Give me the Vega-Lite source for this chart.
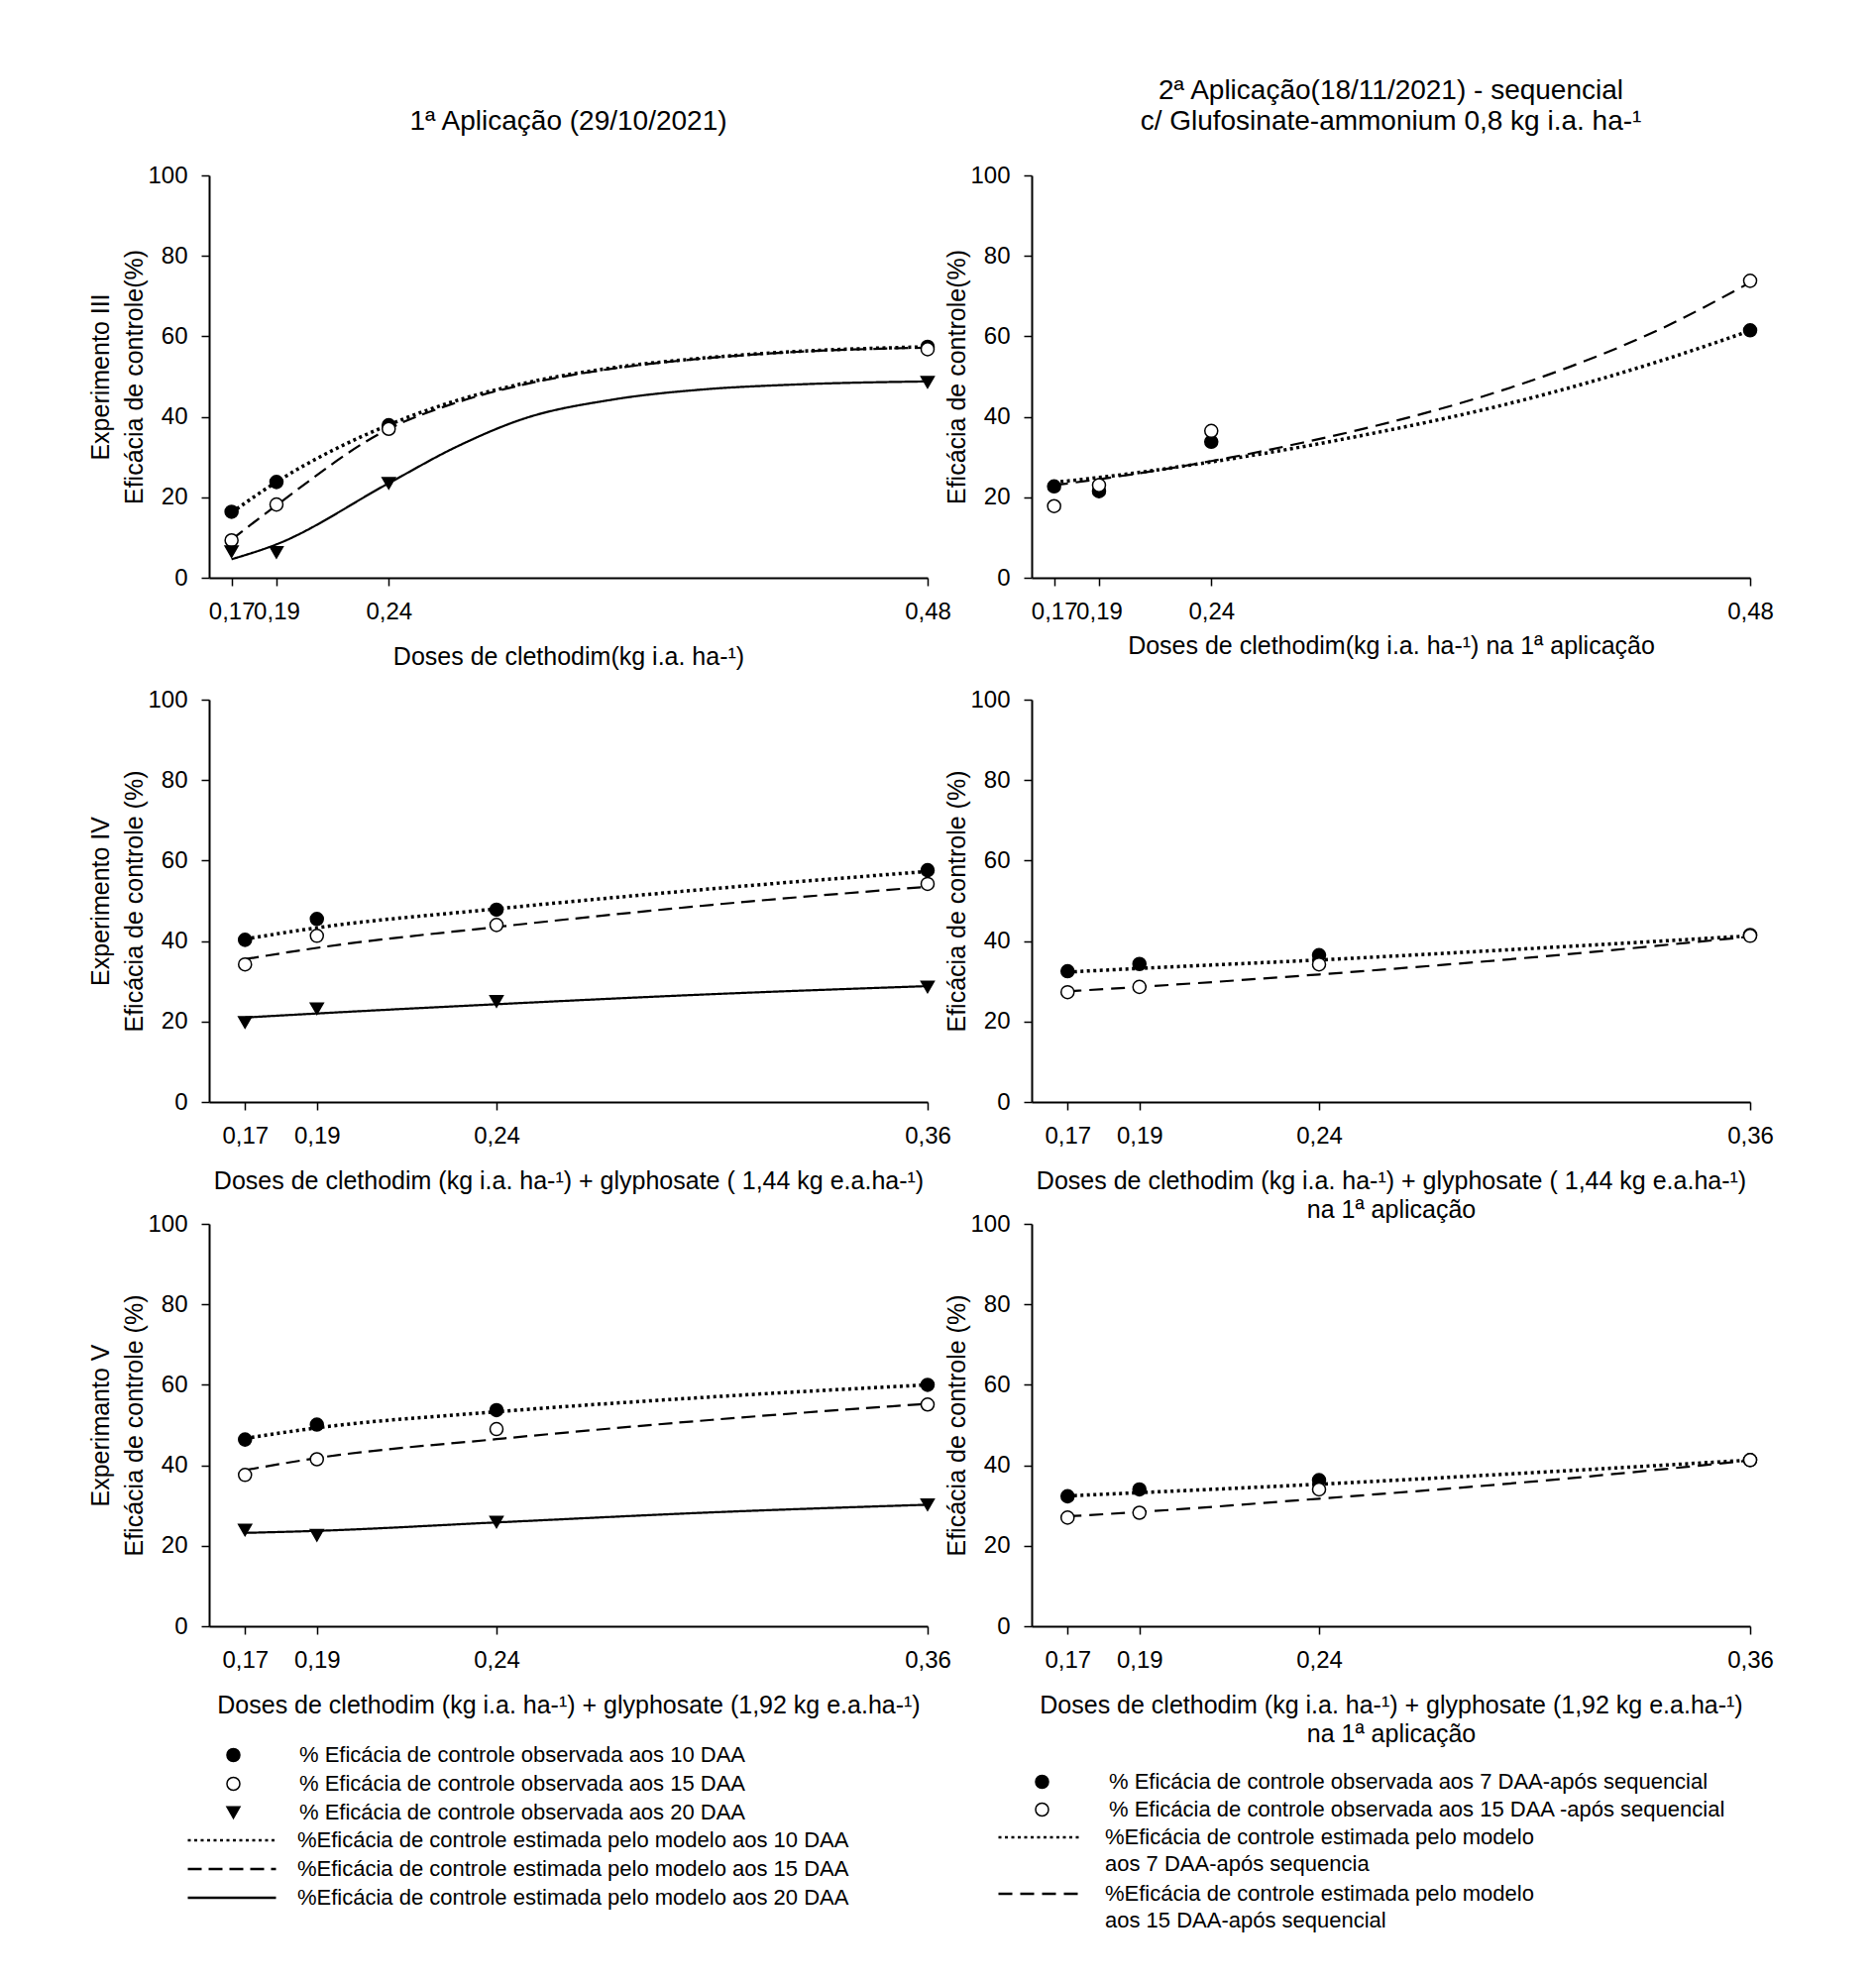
{
  "$schema": "https://vega.github.io/schema/vega-lite/v6.json",
  "background": "white",
  "padding": {"left": 89, "top": 78, "right": 10, "bottom": 10},
  "columns": 2,
  "spacing": {"row": 123, "column": 105},
  "bounds": "flush",
  "resolve": {"scale": {"shape": "independent", "fill": "independent", "stroke": "independent", "strokeDash": "independent"}, "legend": {"shape": "independent", "fill": "independent", "stroke": "independent", "strokeDash": "independent"}},
  "config": {
    "view": {"stroke": null},
    "font": "Liberation Sans",
    "axis": {"grid": false, "domainColor": "black", "domainWidth": 2, "tickColor": "black", "tickWidth": 1.5, "tickSize": 8, "labelColor": "black", "labelFontSize": 24, "labelFont": "Liberation Sans", "titleFont": "Liberation Sans", "titleColor": "black", "titleFontSize": 25, "titleFontWeight": "normal", "labelPadding": 14, "labelOverlap": false, "labelFlush": false},
    "axisX": {"titlePadding": 21, "titleLineHeight": 29},
    "axisY": {"titlePadding": 0, "titleLineHeight": 34},
    "title": {"fontSize": 28, "fontWeight": "normal", "color": "black", "offset": 28, "lineHeight": 31, "frame": "group", "font": "Liberation Sans"},
    "legend": {"padding": 0, "labelFontSize": 22, "labelColor": "black", "labelLimit": 1000, "rowPadding": 0, "labelFont": "Liberation Sans"}
  },
  "concat": [
    {
      "width": 725, "height": 406,
      "title": {"text": "1ª Aplicação (29/10/2021)"},
      "encoding": {
        "x": {"field": "dose", "type": "quantitative", "scale": {"domain": [0.16, 0.48], "nice": false, "zero": false}, "axis": {"values": [0.17, 0.19, 0.24, 0.48], "labelExpr": "replace(format(datum.value, '.2f'), '.', ',')", "title": "Doses de clethodim(kg i.a. ha-¹)"}},
        "y": {"field": "efic", "type": "quantitative", "scale": {"domain": [0, 100], "nice": false}, "axis": {"values": [0, 20, 40, 60, 80, 100], "title": ["Experimento III", "Eficácia de controle(%)"]}}
      },
      "layer": [
        {
          "data": {"values": [
            {"dose": 0.17, "efic": 16.2, "serie": "%Eficácia de controle estimada pelo modelo aos 10 DAA"},
            {"dose": 0.19, "efic": 23.8, "serie": "%Eficácia de controle estimada pelo modelo aos 10 DAA"},
            {"dose": 0.24, "efic": 38.0, "serie": "%Eficácia de controle estimada pelo modelo aos 10 DAA"},
            {"dose": 0.27, "efic": 44.0, "serie": "%Eficácia de controle estimada pelo modelo aos 10 DAA"},
            {"dose": 0.30, "efic": 48.3, "serie": "%Eficácia de controle estimada pelo modelo aos 10 DAA"},
            {"dose": 0.34, "efic": 52.2, "serie": "%Eficácia de controle estimada pelo modelo aos 10 DAA"},
            {"dose": 0.38, "efic": 54.6, "serie": "%Eficácia de controle estimada pelo modelo aos 10 DAA"},
            {"dose": 0.42, "efic": 56.2, "serie": "%Eficácia de controle estimada pelo modelo aos 10 DAA"},
            {"dose": 0.48, "efic": 57.4, "serie": "%Eficácia de controle estimada pelo modelo aos 10 DAA"},
            {"dose": 0.17, "efic": 9.5, "serie": "%Eficácia de controle estimada pelo modelo aos 15 DAA"},
            {"dose": 0.19, "efic": 18.0, "serie": "%Eficácia de controle estimada pelo modelo aos 15 DAA"},
            {"dose": 0.24, "efic": 37.0, "serie": "%Eficácia de controle estimada pelo modelo aos 15 DAA"},
            {"dose": 0.27, "efic": 43.5, "serie": "%Eficácia de controle estimada pelo modelo aos 15 DAA"},
            {"dose": 0.30, "efic": 48.0, "serie": "%Eficácia de controle estimada pelo modelo aos 15 DAA"},
            {"dose": 0.34, "efic": 52.0, "serie": "%Eficácia de controle estimada pelo modelo aos 15 DAA"},
            {"dose": 0.38, "efic": 54.5, "serie": "%Eficácia de controle estimada pelo modelo aos 15 DAA"},
            {"dose": 0.42, "efic": 56.1, "serie": "%Eficácia de controle estimada pelo modelo aos 15 DAA"},
            {"dose": 0.48, "efic": 57.2, "serie": "%Eficácia de controle estimada pelo modelo aos 15 DAA"},
            {"dose": 0.17, "efic": 4.6, "serie": "%Eficácia de controle estimada pelo modelo aos 20 DAA"},
            {"dose": 0.19, "efic": 8.3, "serie": "%Eficácia de controle estimada pelo modelo aos 20 DAA"},
            {"dose": 0.24, "efic": 23.5, "serie": "%Eficácia de controle estimada pelo modelo aos 20 DAA"},
            {"dose": 0.27, "efic": 32.5, "serie": "%Eficácia de controle estimada pelo modelo aos 20 DAA"},
            {"dose": 0.30, "efic": 39.5, "serie": "%Eficácia de controle estimada pelo modelo aos 20 DAA"},
            {"dose": 0.34, "efic": 44.3, "serie": "%Eficácia de controle estimada pelo modelo aos 20 DAA"},
            {"dose": 0.38, "efic": 46.8, "serie": "%Eficácia de controle estimada pelo modelo aos 20 DAA"},
            {"dose": 0.42, "efic": 48.0, "serie": "%Eficácia de controle estimada pelo modelo aos 20 DAA"},
            {"dose": 0.48, "efic": 48.8, "serie": "%Eficácia de controle estimada pelo modelo aos 20 DAA"}
          ]},
          "layer": [
            {
              "transform": [{"filter": "indexof(datum.serie, ' 10 DAA') >= 0"}],
              "mark": {"type": "line", "interpolate": "monotone", "color": "black", "strokeWidth": 3.5},
              "encoding": {"strokeDash": {"field": "serie", "type": "nominal", "scale": {"domain": ["%Eficácia de controle estimada pelo modelo aos 10 DAA", "%Eficácia de controle estimada pelo modelo aos 15 DAA", "%Eficácia de controle estimada pelo modelo aos 20 DAA"], "range": [[3, 3.5], [14, 7], [1, 0]]}, "legend": null}}
            },
            {
              "transform": [{"filter": "indexof(datum.serie, ' 10 DAA') < 0"}],
              "mark": {"type": "line", "interpolate": "monotone", "color": "black", "strokeWidth": 2.2},
              "encoding": {"strokeDash": {"field": "serie", "type": "nominal", "scale": {"domain": ["%Eficácia de controle estimada pelo modelo aos 10 DAA", "%Eficácia de controle estimada pelo modelo aos 15 DAA", "%Eficácia de controle estimada pelo modelo aos 20 DAA"], "range": [[3, 3.5], [14, 7], [1, 0]]}, "legend": null}}
            }
          ]
        },
        {
          "data": {"values": [
            {"dose": 0.17, "efic": 16.4, "serie": "% Eficácia de controle observada aos 10 DAA"},
            {"dose": 0.19, "efic": 23.8, "serie": "% Eficácia de controle observada aos 10 DAA"},
            {"dose": 0.24, "efic": 37.9, "serie": "% Eficácia de controle observada aos 10 DAA"},
            {"dose": 0.48, "efic": 57.4, "serie": "% Eficácia de controle observada aos 10 DAA"},
            {"dose": 0.17, "efic": 9.3, "serie": "% Eficácia de controle observada aos 15 DAA"},
            {"dose": 0.19, "efic": 18.2, "serie": "% Eficácia de controle observada aos 15 DAA"},
            {"dose": 0.24, "efic": 37.0, "serie": "% Eficácia de controle observada aos 15 DAA"},
            {"dose": 0.48, "efic": 56.8, "serie": "% Eficácia de controle observada aos 15 DAA"},
            {"dose": 0.17, "efic": 6.5, "serie": "% Eficácia de controle observada aos 20 DAA"},
            {"dose": 0.19, "efic": 6.3, "serie": "% Eficácia de controle observada aos 20 DAA"},
            {"dose": 0.24, "efic": 23.5, "serie": "% Eficácia de controle observada aos 20 DAA"},
            {"dose": 0.48, "efic": 48.6, "serie": "% Eficácia de controle observada aos 20 DAA"}
          ]},
          "mark": {"type": "point", "filled": true, "stroke": "black", "strokeWidth": 1.5, "opacity": 1, "size": 170},
          "encoding": {
            "shape": {"field": "serie", "type": "nominal", "scale": {"domain": ["% Eficácia de controle observada aos 10 DAA", "% Eficácia de controle observada aos 15 DAA", "% Eficácia de controle observada aos 20 DAA"], "range": ["circle", "circle", "triangle-down"]}, "legend": null},
            "fill": {"field": "serie", "type": "nominal", "scale": {"domain": ["% Eficácia de controle observada aos 10 DAA", "% Eficácia de controle observada aos 15 DAA", "% Eficácia de controle observada aos 20 DAA"], "range": ["black", "white", "black"]}, "legend": null}
          }
        }
      ]
    },
    {
      "width": 725, "height": 406,
      "title": {"text": ["2ª Aplicação(18/11/2021) - sequencial", "c/ Glufosinate-ammonium 0,8 kg i.a. ha-¹"]},
      "encoding": {
        "x": {"field": "dose", "type": "quantitative", "scale": {"domain": [0.16, 0.48], "nice": false, "zero": false}, "axis": {"values": [0.17, 0.19, 0.24, 0.48], "labelExpr": "replace(format(datum.value, '.2f'), '.', ',')", "title": "Doses de clethodim(kg i.a. ha-¹) na 1ª aplicação", "titlePadding": 10}},
        "y": {"field": "efic", "type": "quantitative", "scale": {"domain": [0, 100], "nice": false}, "axis": {"values": [0, 20, 40, 60, 80, 100], "title": "Eficácia de controle(%)"}}
      },
      "layer": [
        {
          "data": {"values": [
            {"dose": 0.17, "efic": 23.7, "serie": "%Eficácia de controle estimada pelo modelo\naos 7 DAA-após sequencia"},
            {"dose": 0.20, "efic": 25.6, "serie": "%Eficácia de controle estimada pelo modelo\naos 7 DAA-após sequencia"},
            {"dose": 0.24, "efic": 28.8, "serie": "%Eficácia de controle estimada pelo modelo\naos 7 DAA-após sequencia"},
            {"dose": 0.28, "efic": 32.5, "serie": "%Eficácia de controle estimada pelo modelo\naos 7 DAA-após sequencia"},
            {"dose": 0.32, "efic": 36.8, "serie": "%Eficácia de controle estimada pelo modelo\naos 7 DAA-após sequencia"},
            {"dose": 0.36, "efic": 41.6, "serie": "%Eficácia de controle estimada pelo modelo\naos 7 DAA-após sequencia"},
            {"dose": 0.40, "efic": 47.3, "serie": "%Eficácia de controle estimada pelo modelo\naos 7 DAA-após sequencia"},
            {"dose": 0.44, "efic": 53.9, "serie": "%Eficácia de controle estimada pelo modelo\naos 7 DAA-após sequencia"},
            {"dose": 0.48, "efic": 61.4, "serie": "%Eficácia de controle estimada pelo modelo\naos 7 DAA-após sequencia"},
            {"dose": 0.17, "efic": 23.0, "serie": "%Eficácia de controle estimada pelo modelo\naos 15 DAA-após sequencial"},
            {"dose": 0.20, "efic": 25.3, "serie": "%Eficácia de controle estimada pelo modelo\naos 15 DAA-após sequencial"},
            {"dose": 0.24, "efic": 29.0, "serie": "%Eficácia de controle estimada pelo modelo\naos 15 DAA-após sequencial"},
            {"dose": 0.28, "efic": 33.5, "serie": "%Eficácia de controle estimada pelo modelo\naos 15 DAA-após sequencial"},
            {"dose": 0.32, "efic": 38.7, "serie": "%Eficácia de controle estimada pelo modelo\naos 15 DAA-após sequencial"},
            {"dose": 0.36, "efic": 44.9, "serie": "%Eficácia de controle estimada pelo modelo\naos 15 DAA-após sequencial"},
            {"dose": 0.40, "efic": 52.5, "serie": "%Eficácia de controle estimada pelo modelo\naos 15 DAA-após sequencial"},
            {"dose": 0.44, "efic": 61.8, "serie": "%Eficácia de controle estimada pelo modelo\naos 15 DAA-após sequencial"},
            {"dose": 0.48, "efic": 73.4, "serie": "%Eficácia de controle estimada pelo modelo\naos 15 DAA-após sequencial"}
          ]},
          "layer": [
            {
              "transform": [{"filter": "indexof(datum.serie, ' 7 DAA') >= 0"}],
              "mark": {"type": "line", "interpolate": "monotone", "color": "black", "strokeWidth": 3.5},
              "encoding": {"strokeDash": {"field": "serie", "type": "nominal", "scale": {"domain": ["%Eficácia de controle estimada pelo modelo\naos 7 DAA-após sequencia", "%Eficácia de controle estimada pelo modelo\naos 15 DAA-após sequencial"], "range": [[3, 3.5], [14, 8]]}, "legend": null}}
            },
            {
              "transform": [{"filter": "indexof(datum.serie, ' 7 DAA') < 0"}],
              "mark": {"type": "line", "interpolate": "monotone", "color": "black", "strokeWidth": 2.2},
              "encoding": {"strokeDash": {"field": "serie", "type": "nominal", "scale": {"domain": ["%Eficácia de controle estimada pelo modelo\naos 7 DAA-após sequencia", "%Eficácia de controle estimada pelo modelo\naos 15 DAA-após sequencial"], "range": [[3, 3.5], [14, 8]]}, "legend": null}}
            }
          ]
        },
        {
          "data": {"values": [
            {"dose": 0.17, "efic": 22.7, "serie": "% Eficácia de controle observada aos 7 DAA-após sequencial"},
            {"dose": 0.19, "efic": 21.5, "serie": "% Eficácia de controle observada aos 7 DAA-após sequencial"},
            {"dose": 0.24, "efic": 33.8, "serie": "% Eficácia de controle observada aos 7 DAA-após sequencial"},
            {"dose": 0.48, "efic": 61.5, "serie": "% Eficácia de controle observada aos 7 DAA-após sequencial"},
            {"dose": 0.17, "efic": 17.8, "serie": "% Eficácia de controle observada aos 15 DAA -após sequencial"},
            {"dose": 0.19, "efic": 23.0, "serie": "% Eficácia de controle observada aos 15 DAA -após sequencial"},
            {"dose": 0.24, "efic": 36.5, "serie": "% Eficácia de controle observada aos 15 DAA -após sequencial"},
            {"dose": 0.48, "efic": 73.8, "serie": "% Eficácia de controle observada aos 15 DAA -após sequencial"}
          ]},
          "mark": {"type": "point", "filled": true, "stroke": "black", "strokeWidth": 1.5, "opacity": 1, "size": 170},
          "encoding": {
            "shape": {"field": "serie", "type": "nominal", "scale": {"domain": ["% Eficácia de controle observada aos 7 DAA-após sequencial", "% Eficácia de controle observada aos 15 DAA -após sequencial"], "range": ["circle", "circle"]}, "legend": null},
            "fill": {"field": "serie", "type": "nominal", "scale": {"domain": ["% Eficácia de controle observada aos 7 DAA-após sequencial", "% Eficácia de controle observada aos 15 DAA -após sequencial"], "range": ["black", "white"]}, "legend": null}
          }
        }
      ]
    },
    {
      "width": 725, "height": 406,
      "encoding": {
        "x": {"field": "dose", "type": "quantitative", "scale": {"domain": [0.16, 0.36], "nice": false, "zero": false}, "axis": {"values": [0.17, 0.19, 0.24, 0.36], "labelExpr": "replace(format(datum.value, '.2f'), '.', ',')", "title": "Doses de clethodim (kg i.a. ha-¹) + glyphosate ( 1,44 kg e.a.ha-¹)"}},
        "y": {"field": "efic", "type": "quantitative", "scale": {"domain": [0, 100], "nice": false}, "axis": {"values": [0, 20, 40, 60, 80, 100], "title": ["Experimento IV", "Eficácia de controle (%)"]}}
      },
      "layer": [
        {
          "data": {"values": [
            {"dose": 0.17, "efic": 40.5, "serie": "%Eficácia de controle estimada pelo modelo aos 10 DAA"},
            {"dose": 0.19, "efic": 43.3, "serie": "%Eficácia de controle estimada pelo modelo aos 10 DAA"},
            {"dose": 0.24, "efic": 48.0, "serie": "%Eficácia de controle estimada pelo modelo aos 10 DAA"},
            {"dose": 0.30, "efic": 53.0, "serie": "%Eficácia de controle estimada pelo modelo aos 10 DAA"},
            {"dose": 0.36, "efic": 57.3, "serie": "%Eficácia de controle estimada pelo modelo aos 10 DAA"},
            {"dose": 0.17, "efic": 35.5, "serie": "%Eficácia de controle estimada pelo modelo aos 15 DAA"},
            {"dose": 0.19, "efic": 38.3, "serie": "%Eficácia de controle estimada pelo modelo aos 15 DAA"},
            {"dose": 0.24, "efic": 43.5, "serie": "%Eficácia de controle estimada pelo modelo aos 15 DAA"},
            {"dose": 0.30, "efic": 49.0, "serie": "%Eficácia de controle estimada pelo modelo aos 15 DAA"},
            {"dose": 0.36, "efic": 53.5, "serie": "%Eficácia de controle estimada pelo modelo aos 15 DAA"},
            {"dose": 0.17, "efic": 21.0, "serie": "%Eficácia de controle estimada pelo modelo aos 20 DAA"},
            {"dose": 0.19, "efic": 22.0, "serie": "%Eficácia de controle estimada pelo modelo aos 20 DAA"},
            {"dose": 0.24, "efic": 24.3, "serie": "%Eficácia de controle estimada pelo modelo aos 20 DAA"},
            {"dose": 0.30, "efic": 26.8, "serie": "%Eficácia de controle estimada pelo modelo aos 20 DAA"},
            {"dose": 0.36, "efic": 28.8, "serie": "%Eficácia de controle estimada pelo modelo aos 20 DAA"}
          ]},
          "layer": [
            {
              "transform": [{"filter": "indexof(datum.serie, ' 10 DAA') >= 0"}],
              "mark": {"type": "line", "interpolate": "monotone", "color": "black", "strokeWidth": 3.5},
              "encoding": {"strokeDash": {"field": "serie", "type": "nominal", "scale": {"domain": ["%Eficácia de controle estimada pelo modelo aos 10 DAA", "%Eficácia de controle estimada pelo modelo aos 15 DAA", "%Eficácia de controle estimada pelo modelo aos 20 DAA"], "range": [[3, 3.5], [14, 7], [1, 0]]}, "legend": null}}
            },
            {
              "transform": [{"filter": "indexof(datum.serie, ' 10 DAA') < 0"}],
              "mark": {"type": "line", "interpolate": "monotone", "color": "black", "strokeWidth": 2.2},
              "encoding": {"strokeDash": {"field": "serie", "type": "nominal", "scale": {"domain": ["%Eficácia de controle estimada pelo modelo aos 10 DAA", "%Eficácia de controle estimada pelo modelo aos 15 DAA", "%Eficácia de controle estimada pelo modelo aos 20 DAA"], "range": [[3, 3.5], [14, 7], [1, 0]]}, "legend": null}}
            }
          ]
        },
        {
          "data": {"values": [
            {"dose": 0.17, "efic": 40.3, "serie": "% Eficácia de controle observada aos 10 DAA"},
            {"dose": 0.19, "efic": 45.5, "serie": "% Eficácia de controle observada aos 10 DAA"},
            {"dose": 0.24, "efic": 47.8, "serie": "% Eficácia de controle observada aos 10 DAA"},
            {"dose": 0.36, "efic": 57.6, "serie": "% Eficácia de controle observada aos 10 DAA"},
            {"dose": 0.17, "efic": 34.2, "serie": "% Eficácia de controle observada aos 15 DAA"},
            {"dose": 0.19, "efic": 41.3, "serie": "% Eficácia de controle observada aos 15 DAA"},
            {"dose": 0.24, "efic": 44.0, "serie": "% Eficácia de controle observada aos 15 DAA"},
            {"dose": 0.36, "efic": 54.2, "serie": "% Eficácia de controle observada aos 15 DAA"},
            {"dose": 0.17, "efic": 19.8, "serie": "% Eficácia de controle observada aos 20 DAA"},
            {"dose": 0.19, "efic": 23.2, "serie": "% Eficácia de controle observada aos 20 DAA"},
            {"dose": 0.24, "efic": 25.0, "serie": "% Eficácia de controle observada aos 20 DAA"},
            {"dose": 0.36, "efic": 28.6, "serie": "% Eficácia de controle observada aos 20 DAA"}
          ]},
          "mark": {"type": "point", "filled": true, "stroke": "black", "strokeWidth": 1.5, "opacity": 1, "size": 170},
          "encoding": {
            "shape": {"field": "serie", "type": "nominal", "scale": {"domain": ["% Eficácia de controle observada aos 10 DAA", "% Eficácia de controle observada aos 15 DAA", "% Eficácia de controle observada aos 20 DAA"], "range": ["circle", "circle", "triangle-down"]}, "legend": null},
            "fill": {"field": "serie", "type": "nominal", "scale": {"domain": ["% Eficácia de controle observada aos 10 DAA", "% Eficácia de controle observada aos 15 DAA", "% Eficácia de controle observada aos 20 DAA"], "range": ["black", "white", "black"]}, "legend": null}
          }
        }
      ]
    },
    {
      "width": 725, "height": 406,
      "encoding": {
        "x": {"field": "dose", "type": "quantitative", "scale": {"domain": [0.16, 0.36], "nice": false, "zero": false}, "axis": {"values": [0.17, 0.19, 0.24, 0.36], "labelExpr": "replace(format(datum.value, '.2f'), '.', ',')", "title": ["Doses de clethodim (kg i.a. ha-¹) + glyphosate ( 1,44 kg e.a.ha-¹)", "na 1ª aplicação"]}},
        "y": {"field": "efic", "type": "quantitative", "scale": {"domain": [0, 100], "nice": false}, "axis": {"values": [0, 20, 40, 60, 80, 100], "title": "Eficácia de controle (%)"}}
      },
      "layer": [
        {
          "data": {"values": [
            {"dose": 0.17, "efic": 32.3, "serie": "%Eficácia de controle estimada pelo modelo\naos 7 DAA-após sequencia"},
            {"dose": 0.19, "efic": 33.2, "serie": "%Eficácia de controle estimada pelo modelo\naos 7 DAA-após sequencia"},
            {"dose": 0.24, "efic": 35.3, "serie": "%Eficácia de controle estimada pelo modelo\naos 7 DAA-após sequencia"},
            {"dose": 0.30, "efic": 38.2, "serie": "%Eficácia de controle estimada pelo modelo\naos 7 DAA-após sequencia"},
            {"dose": 0.36, "efic": 41.3, "serie": "%Eficácia de controle estimada pelo modelo\naos 7 DAA-após sequencia"},
            {"dose": 0.17, "efic": 27.5, "serie": "%Eficácia de controle estimada pelo modelo\naos 15 DAA-após sequencial"},
            {"dose": 0.19, "efic": 28.6, "serie": "%Eficácia de controle estimada pelo modelo\naos 15 DAA-após sequencial"},
            {"dose": 0.24, "efic": 31.7, "serie": "%Eficácia de controle estimada pelo modelo\naos 15 DAA-após sequencial"},
            {"dose": 0.30, "efic": 36.0, "serie": "%Eficácia de controle estimada pelo modelo\naos 15 DAA-após sequencial"},
            {"dose": 0.36, "efic": 41.1, "serie": "%Eficácia de controle estimada pelo modelo\naos 15 DAA-após sequencial"}
          ]},
          "layer": [
            {
              "transform": [{"filter": "indexof(datum.serie, ' 7 DAA') >= 0"}],
              "mark": {"type": "line", "interpolate": "monotone", "color": "black", "strokeWidth": 3.5},
              "encoding": {"strokeDash": {"field": "serie", "type": "nominal", "scale": {"domain": ["%Eficácia de controle estimada pelo modelo\naos 7 DAA-após sequencia", "%Eficácia de controle estimada pelo modelo\naos 15 DAA-após sequencial"], "range": [[3, 3.5], [14, 8]]}, "legend": null}}
            },
            {
              "transform": [{"filter": "indexof(datum.serie, ' 7 DAA') < 0"}],
              "mark": {"type": "line", "interpolate": "monotone", "color": "black", "strokeWidth": 2.2},
              "encoding": {"strokeDash": {"field": "serie", "type": "nominal", "scale": {"domain": ["%Eficácia de controle estimada pelo modelo\naos 7 DAA-após sequencia", "%Eficácia de controle estimada pelo modelo\naos 15 DAA-após sequencial"], "range": [[3, 3.5], [14, 8]]}, "legend": null}}
            }
          ]
        },
        {
          "data": {"values": [
            {"dose": 0.17, "efic": 32.5, "serie": "% Eficácia de controle observada aos 7 DAA-após sequencial"},
            {"dose": 0.19, "efic": 34.3, "serie": "% Eficácia de controle observada aos 7 DAA-após sequencial"},
            {"dose": 0.24, "efic": 36.5, "serie": "% Eficácia de controle observada aos 7 DAA-após sequencial"},
            {"dose": 0.36, "efic": 41.5, "serie": "% Eficácia de controle observada aos 7 DAA-após sequencial"},
            {"dose": 0.17, "efic": 27.3, "serie": "% Eficácia de controle observada aos 15 DAA -após sequencial"},
            {"dose": 0.19, "efic": 28.6, "serie": "% Eficácia de controle observada aos 15 DAA -após sequencial"},
            {"dose": 0.24, "efic": 34.2, "serie": "% Eficácia de controle observada aos 15 DAA -após sequencial"},
            {"dose": 0.36, "efic": 41.3, "serie": "% Eficácia de controle observada aos 15 DAA -após sequencial"}
          ]},
          "mark": {"type": "point", "filled": true, "stroke": "black", "strokeWidth": 1.5, "opacity": 1, "size": 170},
          "encoding": {
            "shape": {"field": "serie", "type": "nominal", "scale": {"domain": ["% Eficácia de controle observada aos 7 DAA-após sequencial", "% Eficácia de controle observada aos 15 DAA -após sequencial"], "range": ["circle", "circle"]}, "legend": null},
            "fill": {"field": "serie", "type": "nominal", "scale": {"domain": ["% Eficácia de controle observada aos 7 DAA-após sequencial", "% Eficácia de controle observada aos 15 DAA -após sequencial"], "range": ["black", "white"]}, "legend": null}
          }
        }
      ]
    },
    {
      "width": 725, "height": 406,
      "encoding": {
        "x": {"field": "dose", "type": "quantitative", "scale": {"domain": [0.16, 0.36], "nice": false, "zero": false}, "axis": {"values": [0.17, 0.19, 0.24, 0.36], "labelExpr": "replace(format(datum.value, '.2f'), '.', ',')", "title": "Doses de clethodim (kg i.a. ha-¹) + glyphosate (1,92 kg e.a.ha-¹)"}},
        "y": {"field": "efic", "type": "quantitative", "scale": {"domain": [0, 100], "nice": false}, "axis": {"values": [0, 20, 40, 60, 80, 100], "title": ["Experimanto V", "Eficácia de controle (%)"]}}
      },
      "layer": [
        {
          "data": {"values": [
            {"dose": 0.17, "efic": 46.7, "serie": "%Eficácia de controle estimada pelo modelo aos 10 DAA"},
            {"dose": 0.19, "efic": 49.3, "serie": "%Eficácia de controle estimada pelo modelo aos 10 DAA"},
            {"dose": 0.24, "efic": 53.3, "serie": "%Eficácia de controle estimada pelo modelo aos 10 DAA"},
            {"dose": 0.30, "efic": 57.0, "serie": "%Eficácia de controle estimada pelo modelo aos 10 DAA"},
            {"dose": 0.36, "efic": 60.0, "serie": "%Eficácia de controle estimada pelo modelo aos 10 DAA"},
            {"dose": 0.17, "efic": 38.8, "serie": "%Eficácia de controle estimada pelo modelo aos 15 DAA"},
            {"dose": 0.19, "efic": 41.8, "serie": "%Eficácia de controle estimada pelo modelo aos 15 DAA"},
            {"dose": 0.24, "efic": 46.5, "serie": "%Eficácia de controle estimada pelo modelo aos 15 DAA"},
            {"dose": 0.30, "efic": 51.3, "serie": "%Eficácia de controle estimada pelo modelo aos 15 DAA"},
            {"dose": 0.36, "efic": 55.3, "serie": "%Eficácia de controle estimada pelo modelo aos 15 DAA"},
            {"dose": 0.17, "efic": 23.2, "serie": "%Eficácia de controle estimada pelo modelo aos 20 DAA"},
            {"dose": 0.19, "efic": 23.7, "serie": "%Eficácia de controle estimada pelo modelo aos 20 DAA"},
            {"dose": 0.24, "efic": 25.8, "serie": "%Eficácia de controle estimada pelo modelo aos 20 DAA"},
            {"dose": 0.30, "efic": 28.3, "serie": "%Eficácia de controle estimada pelo modelo aos 20 DAA"},
            {"dose": 0.36, "efic": 30.2, "serie": "%Eficácia de controle estimada pelo modelo aos 20 DAA"}
          ]},
          "layer": [
            {
              "transform": [{"filter": "indexof(datum.serie, ' 10 DAA') >= 0"}],
              "mark": {"type": "line", "interpolate": "monotone", "color": "black", "strokeWidth": 3.5},
              "encoding": {"strokeDash": {"field": "serie", "type": "nominal", "scale": {"domain": ["%Eficácia de controle estimada pelo modelo aos 10 DAA", "%Eficácia de controle estimada pelo modelo aos 15 DAA", "%Eficácia de controle estimada pelo modelo aos 20 DAA"], "range": [[3, 3.5], [14, 7], [1, 0]]}, "legend": {"orient": "none", "legendX": -23, "legendY": 607.5, "title": null, "symbolType": "stroke", "symbolSize": 7921, "symbolStrokeColor": "black", "symbolStrokeWidth": 2.5, "labelOffset": 20, "clipHeight": 29, "rowPadding": 0, "padding": 0, "labelFontSize": 22, "labelLimit": 1000}}}
            },
            {
              "transform": [{"filter": "indexof(datum.serie, ' 10 DAA') < 0"}],
              "mark": {"type": "line", "interpolate": "monotone", "color": "black", "strokeWidth": 2.2},
              "encoding": {"strokeDash": {"field": "serie", "type": "nominal", "scale": {"domain": ["%Eficácia de controle estimada pelo modelo aos 10 DAA", "%Eficácia de controle estimada pelo modelo aos 15 DAA", "%Eficácia de controle estimada pelo modelo aos 20 DAA"], "range": [[3, 3.5], [14, 7], [1, 0]]}, "legend": {"orient": "none", "legendX": -23, "legendY": 607.5, "title": null, "symbolType": "stroke", "symbolSize": 7921, "symbolStrokeColor": "black", "symbolStrokeWidth": 2.5, "labelOffset": 20, "clipHeight": 29, "rowPadding": 0, "padding": 0, "labelFontSize": 22, "labelLimit": 1000}}}
            }
          ]
        },
        {
          "data": {"values": [
            {"dose": 0.17, "efic": 46.4, "serie": "% Eficácia de controle observada aos 10 DAA"},
            {"dose": 0.19, "efic": 50.1, "serie": "% Eficácia de controle observada aos 10 DAA"},
            {"dose": 0.24, "efic": 53.7, "serie": "% Eficácia de controle observada aos 10 DAA"},
            {"dose": 0.36, "efic": 60.0, "serie": "% Eficácia de controle observada aos 10 DAA"},
            {"dose": 0.17, "efic": 37.6, "serie": "% Eficácia de controle observada aos 15 DAA"},
            {"dose": 0.19, "efic": 41.5, "serie": "% Eficácia de controle observada aos 15 DAA"},
            {"dose": 0.24, "efic": 49.0, "serie": "% Eficácia de controle observada aos 15 DAA"},
            {"dose": 0.36, "efic": 55.1, "serie": "% Eficácia de controle observada aos 15 DAA"},
            {"dose": 0.17, "efic": 23.9, "serie": "% Eficácia de controle observada aos 20 DAA"},
            {"dose": 0.19, "efic": 22.6, "serie": "% Eficácia de controle observada aos 20 DAA"},
            {"dose": 0.24, "efic": 25.9, "serie": "% Eficácia de controle observada aos 20 DAA"},
            {"dose": 0.36, "efic": 30.2, "serie": "% Eficácia de controle observada aos 20 DAA"}
          ]},
          "mark": {"type": "point", "filled": true, "strokeWidth": 1.5, "opacity": 1, "size": 170},
          "encoding": {
            "shape": {"field": "serie", "type": "nominal", "scale": {"domain": ["% Eficácia de controle observada aos 10 DAA", "% Eficácia de controle observada aos 15 DAA", "% Eficácia de controle observada aos 20 DAA"], "range": ["circle", "circle", "triangle-down"]}, "legend": {"orient": "none", "legendX": 13.5, "legendY": 521.5, "title": null, "symbolSize": 170, "symbolStrokeWidth": 1.5, "labelOffset": 55.5, "clipHeight": 29, "rowPadding": 0, "padding": 0, "labelFontSize": 22, "labelLimit": 1000}},
            "fill": {"field": "serie", "type": "nominal", "scale": {"domain": ["% Eficácia de controle observada aos 10 DAA", "% Eficácia de controle observada aos 15 DAA", "% Eficácia de controle observada aos 20 DAA"], "range": ["black", "white", "black"]}, "legend": {"orient": "none", "legendX": 13.5, "legendY": 521.5, "title": null, "symbolSize": 170, "symbolStrokeWidth": 1.5, "labelOffset": 55.5, "clipHeight": 29, "rowPadding": 0, "padding": 0, "labelFontSize": 22, "labelLimit": 1000}},
            "stroke": {"field": "serie", "type": "nominal", "scale": {"domain": ["% Eficácia de controle observada aos 10 DAA", "% Eficácia de controle observada aos 15 DAA", "% Eficácia de controle observada aos 20 DAA"], "range": ["black", "black", "black"]}, "legend": {"orient": "none", "legendX": 13.5, "legendY": 521.5, "title": null, "symbolSize": 170, "symbolStrokeWidth": 1.5, "labelOffset": 55.5, "clipHeight": 29, "rowPadding": 0, "padding": 0, "labelFontSize": 22, "labelLimit": 1000}}
          }
        }
      ]
    },
    {
      "width": 725, "height": 406,
      "encoding": {
        "x": {"field": "dose", "type": "quantitative", "scale": {"domain": [0.16, 0.36], "nice": false, "zero": false}, "axis": {"values": [0.17, 0.19, 0.24, 0.36], "labelExpr": "replace(format(datum.value, '.2f'), '.', ',')", "title": ["Doses de clethodim (kg i.a. ha-¹) + glyphosate (1,92 kg e.a.ha-¹)", "na 1ª aplicação"]}},
        "y": {"field": "efic", "type": "quantitative", "scale": {"domain": [0, 100], "nice": false}, "axis": {"values": [0, 20, 40, 60, 80, 100], "title": "Eficácia de controle (%)"}}
      },
      "layer": [
        {
          "data": {"values": [
            {"dose": 0.17, "efic": 32.4, "serie": "%Eficácia de controle estimada pelo modelo\naos 7 DAA-após sequencia"},
            {"dose": 0.19, "efic": 33.2, "serie": "%Eficácia de controle estimada pelo modelo\naos 7 DAA-após sequencia"},
            {"dose": 0.24, "efic": 35.3, "serie": "%Eficácia de controle estimada pelo modelo\naos 7 DAA-após sequencia"},
            {"dose": 0.30, "efic": 38.2, "serie": "%Eficácia de controle estimada pelo modelo\naos 7 DAA-após sequencia"},
            {"dose": 0.36, "efic": 41.3, "serie": "%Eficácia de controle estimada pelo modelo\naos 7 DAA-após sequencia"},
            {"dose": 0.17, "efic": 27.3, "serie": "%Eficácia de controle estimada pelo modelo\naos 15 DAA-após sequencial"},
            {"dose": 0.19, "efic": 28.4, "serie": "%Eficácia de controle estimada pelo modelo\naos 15 DAA-após sequencial"},
            {"dose": 0.24, "efic": 31.7, "serie": "%Eficácia de controle estimada pelo modelo\naos 15 DAA-após sequencial"},
            {"dose": 0.30, "efic": 36.0, "serie": "%Eficácia de controle estimada pelo modelo\naos 15 DAA-após sequencial"},
            {"dose": 0.36, "efic": 41.2, "serie": "%Eficácia de controle estimada pelo modelo\naos 15 DAA-após sequencial"}
          ]},
          "layer": [
            {
              "transform": [{"filter": "indexof(datum.serie, ' 7 DAA') >= 0"}],
              "mark": {"type": "line", "interpolate": "monotone", "color": "black", "strokeWidth": 3.5},
              "encoding": {"strokeDash": {"field": "serie", "type": "nominal", "scale": {"domain": ["%Eficácia de controle estimada pelo modelo\naos 7 DAA-após sequencia", "%Eficácia de controle estimada pelo modelo\naos 15 DAA-após sequencial"], "range": [[3, 3.5], [14, 8]]}, "legend": {"orient": "none", "legendX": -35, "legendY": 600, "title": null, "symbolType": "stroke", "symbolSize": 6889, "symbolStrokeColor": "black", "symbolStrokeWidth": 2.5, "labelOffset": 23, "clipHeight": 38, "rowPadding": 0, "padding": 0, "labelFontSize": 22, "labelLimit": 1000, "labelExpr": "split(datum.label, '\\n')", "labelBaseline": "middle", "encode": {"labels": {"update": {"lineHeight": {"value": 27}}}}}}}
            },
            {
              "transform": [{"filter": "indexof(datum.serie, ' 7 DAA') < 0"}],
              "mark": {"type": "line", "interpolate": "monotone", "color": "black", "strokeWidth": 2.2},
              "encoding": {"strokeDash": {"field": "serie", "type": "nominal", "scale": {"domain": ["%Eficácia de controle estimada pelo modelo\naos 7 DAA-após sequencia", "%Eficácia de controle estimada pelo modelo\naos 15 DAA-após sequencial"], "range": [[3, 3.5], [14, 8]]}, "legend": {"orient": "none", "legendX": -35, "legendY": 600, "title": null, "symbolType": "stroke", "symbolSize": 6889, "symbolStrokeColor": "black", "symbolStrokeWidth": 2.5, "labelOffset": 23, "clipHeight": 38, "rowPadding": 0, "padding": 0, "labelFontSize": 22, "labelLimit": 1000, "labelExpr": "split(datum.label, '\\n')", "labelBaseline": "middle", "encode": {"labels": {"update": {"lineHeight": {"value": 27}}}}}}}
            }
          ]
        },
        {
          "data": {"values": [
            {"dose": 0.17, "efic": 32.3, "serie": "% Eficácia de controle observada aos 7 DAA-após sequencial"},
            {"dose": 0.19, "efic": 34.0, "serie": "% Eficácia de controle observada aos 7 DAA-após sequencial"},
            {"dose": 0.24, "efic": 36.3, "serie": "% Eficácia de controle observada aos 7 DAA-após sequencial"},
            {"dose": 0.36, "efic": 41.3, "serie": "% Eficácia de controle observada aos 7 DAA-após sequencial"},
            {"dose": 0.17, "efic": 27.0, "serie": "% Eficácia de controle observada aos 15 DAA -após sequencial"},
            {"dose": 0.19, "efic": 28.2, "serie": "% Eficácia de controle observada aos 15 DAA -após sequencial"},
            {"dose": 0.24, "efic": 34.0, "serie": "% Eficácia de controle observada aos 15 DAA -após sequencial"},
            {"dose": 0.36, "efic": 41.3, "serie": "% Eficácia de controle observada aos 15 DAA -após sequencial"}
          ]},
          "mark": {"type": "point", "filled": true, "strokeWidth": 1.5, "opacity": 1, "size": 170},
          "encoding": {
            "shape": {"field": "serie", "type": "nominal", "scale": {"domain": ["% Eficácia de controle observada aos 7 DAA-após sequencial", "% Eficácia de controle observada aos 15 DAA -após sequencial"], "range": ["circle", "circle"]}, "legend": {"orient": "none", "legendX": -0.5, "legendY": 549, "title": null, "symbolSize": 170, "symbolStrokeWidth": 1.5, "labelOffset": 56.5, "clipHeight": 28, "rowPadding": 0, "padding": 0, "labelFontSize": 22, "labelLimit": 1000}},
            "fill": {"field": "serie", "type": "nominal", "scale": {"domain": ["% Eficácia de controle observada aos 7 DAA-após sequencial", "% Eficácia de controle observada aos 15 DAA -após sequencial"], "range": ["black", "white"]}, "legend": {"orient": "none", "legendX": -0.5, "legendY": 549, "title": null, "symbolSize": 170, "symbolStrokeWidth": 1.5, "labelOffset": 56.5, "clipHeight": 28, "rowPadding": 0, "padding": 0, "labelFontSize": 22, "labelLimit": 1000}},
            "stroke": {"field": "serie", "type": "nominal", "scale": {"domain": ["% Eficácia de controle observada aos 7 DAA-após sequencial", "% Eficácia de controle observada aos 15 DAA -após sequencial"], "range": ["black", "black"]}, "legend": {"orient": "none", "legendX": -0.5, "legendY": 549, "title": null, "symbolSize": 170, "symbolStrokeWidth": 1.5, "labelOffset": 56.5, "clipHeight": 28, "rowPadding": 0, "padding": 0, "labelFontSize": 22, "labelLimit": 1000}}
          }
        }
      ]
    }
  ]
}
